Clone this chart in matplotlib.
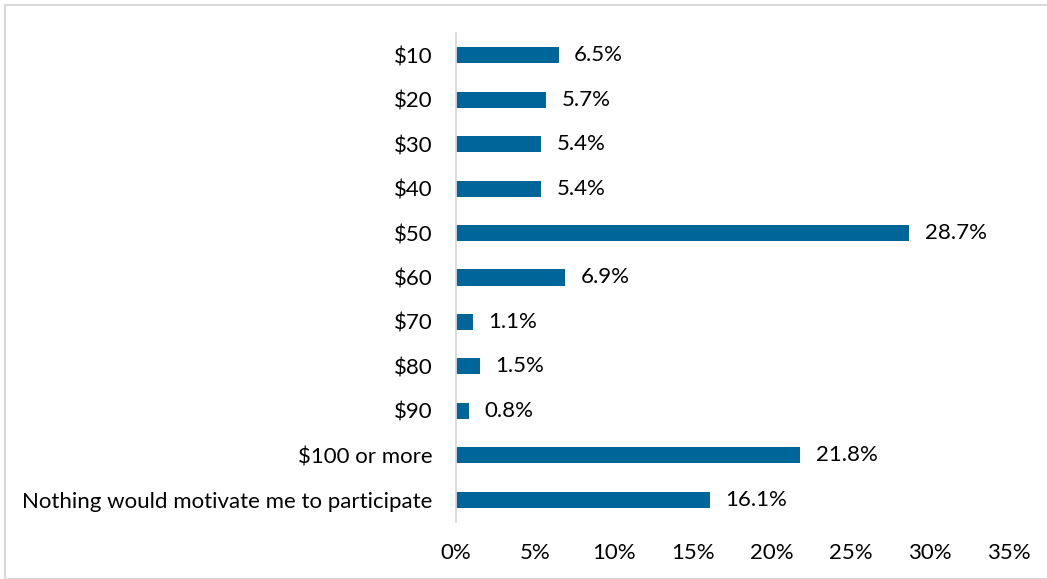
import matplotlib
matplotlib.use("Agg")
import matplotlib.pyplot as plt
from matplotlib.patches import Rectangle

categories = ["$10", "$20", "$30", "$40", "$50", "$60", "$70", "$80", "$90",
              "$100 or more", "Nothing would motivate me to participate"]
values = [6.5, 5.7, 5.4, 5.4, 28.7, 6.9, 1.1, 1.5, 0.8, 21.8, 16.1]
xticks = [0, 5, 10, 15, 20, 25, 30, 35]
xtick_labels = ["0%", "5%", "10%", "15%", "20%", "25%", "30%", "35%"]

plt.rcParams['font.family'] = ['Lato', 'DejaVu Sans']
plt.rcParams['text.parse_math'] = False

FS = 16

fig = plt.figure(figsize=(10.47, 5.79), dpi=100)
ax = fig.add_axes([456/1047, 1 - 522/579, (1009 - 456)/1047, (522 - 33)/579])

y = list(range(len(categories)))
ax.barh(y, values, height=0.36, color="#006699")
ax.set_ylim(len(categories) - 0.5, -0.5)
ax.set_xlim(0, 35)
ax.set_yticks(y)
ax.set_yticklabels(categories, fontsize=FS, color="#000000")
ax.set_xticks(xticks)
ax.set_xticklabels(xtick_labels, fontsize=FS, color="#000000")
ax.tick_params(axis='y', length=0, pad=17)
ax.tick_params(axis='x', length=0, pad=15)

for s in ["top", "right", "bottom"]:
    ax.spines[s].set_visible(False)
ax.spines["left"].set_color("#d9d9d9")
ax.spines["left"].set_linewidth(1.3)

for yi, v in zip(y, values):
    ax.annotate(f"{v:.1f}%", (v, yi), xytext=(11, 0), textcoords="offset points",
                va="center", ha="left", fontsize=FS, color="#000000")

fig.patches.append(Rectangle((5/1047, 0), 1 - 5/1047 + 0.01, 1 - 5/579,
                             transform=fig.transFigure, fill=False,
                             edgecolor="#d9d9d9", linewidth=1.5))

fig.savefig("out.png", dpi=100)
